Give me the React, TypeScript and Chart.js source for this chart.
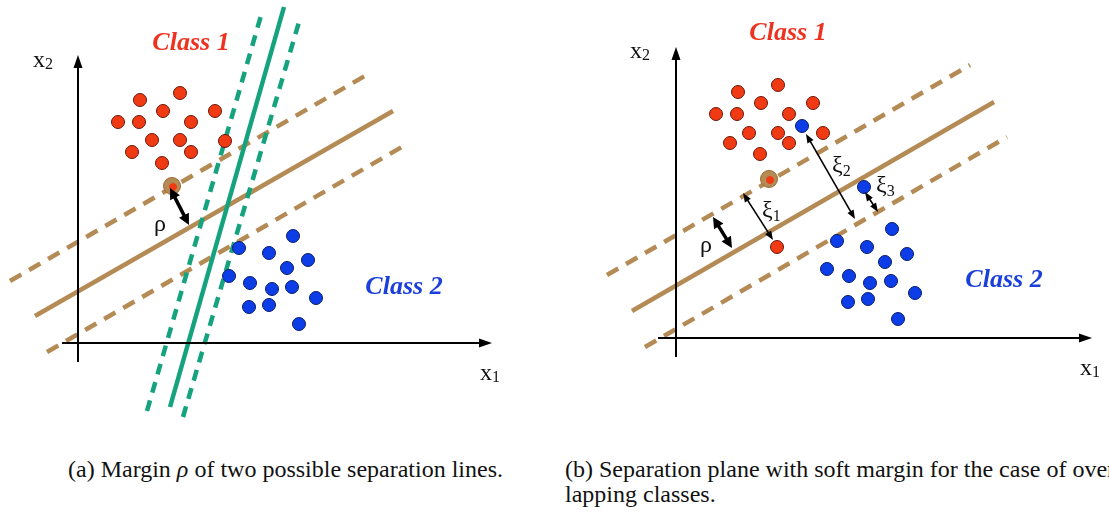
import React, { useEffect, useRef } from "react";
import { Chart, registerables } from "chart.js";
Chart.register(...registerables);

type P = [number, number];

// ---------- Panel (a) data (x1, x2 in diagram units) ----------
const redA: P[] = [
  [6.2, 24.3], [10.2, 25.0], [8.5, 23.2], [13.7, 23.2], [4.0, 22.1], [6.1, 22.1], [11.3, 22.1],
  [7.4, 20.3], [10.2, 20.3], [14.7, 20.2], [5.4, 19.1], [11.3, 19.1], [8.4, 18.0],
];
const blueA: P[] = [
  [21.5, 10.7], [16.1, 9.5], [19.1, 9.0], [23.0, 8.3], [20.9, 7.5], [15.1, 6.7], [17.2, 6.0],
  [19.4, 5.4], [21.4, 5.6], [23.8, 4.5], [17.1, 3.6], [19.1, 3.8], [22.1, 1.9],
];
const svA: P[] = [[9.4, 15.7]];
const brownSolidA: P[] = [[-4.3, 2.7], [31.5, 23.2]];
const brownUpperA: P[] = [[-6.8, 6.2], [29.2, 27.0]];
const brownLowerA: P[] = [[-3.1, -0.9], [32.9, 19.9]];
const greenSolidA: P[] = [[9.2, -6.4], [20.6, 33.6]];
const greenLeftA: P[] = [[6.9, -6.8], [18.4, 33.1]];
const greenRightA: P[] = [[10.5, -7.4], [22.1, 32.1]];
const axisXA: P[] = [[-1.6, 0], [41.4, 0]];
const axisYA: P[] = [[0, -1.9], [0, 28.8]];
const rhoArrowA: P[] = [[9.2, 15.5], [11.1, 11.8]];

// ---------- Panel (b) data ----------
const redB: P[] = [
  [6.2, 24.6], [10.2, 25.3], [8.5, 23.5], [13.7, 23.5], [4.0, 22.4], [6.1, 22.4], [11.3, 22.4],
  [7.3, 20.5], [10.2, 20.5], [14.7, 20.5], [5.4, 19.5], [11.3, 19.5], [8.4, 18.4],
];
const redOutB: P[] = [[10.1, 9.1]];
const blueB: P[] = [
  [21.6, 10.9], [16.1, 9.7], [19.1, 9.1], [23.1, 8.4], [20.9, 7.6], [15.1, 6.9], [17.3, 6.2],
  [19.4, 5.5], [21.5, 5.7], [23.9, 4.5], [17.2, 3.6], [19.2, 3.9], [22.2, 1.9],
];
const blueOutB: P[] = [[12.6, 21.2], [18.8, 15.1]];
const svB: P[] = [[9.3, 15.9]];
const brownSolidB: P[] = [[-4.4, 2.7], [31.8, 23.6]];
const brownUpperB: P[] = [[-6.9, 6.3], [29.4, 27.3]];
const brownLowerB: P[] = [[-3.1, -0.9], [33.1, 20.1]];
const axisXB: P[] = [[-1.8, 0], [41.6, 0]];
const axisYB: P[] = [[0, -1.9], [0, 29.1]];
const rhoArrowB: P[] = [[3.7, 12.1], [5.6, 9.0]];
const xi1Arrow: P[] = [[6.7, 14.5], [9.7, 9.8]];
const xi2Arrow: P[] = [[13.0, 20.4], [17.9, 11.9]];
const xi3Arrow: P[] = [[18.9, 14.6], [20.2, 12.6]];

// ---------- labels ----------
const classLabels = ["Class 1", "Class 2"];
const axisLabels = ["x", "x"];
const axisSubs = ["1", "2"];
const xiSubs = ["1", "2", "3"];

const BROWN = "#B48A55";
const GREEN = "#14A37E";
const RED = "#F03A14";
const BLUE = "#0C3DE6";
const RED_TXT = "#EE3220";
const BLUE_TXT = "#1B3FDA";

const pts = (a: P[]) => a.map(([x, y]) => ({ x, y }));

type ArrowSpec = { pts: P[]; width: number; both: boolean; len: number; wid: number };
type TextSpec = {
  at: P; text: string; sub?: string; font: string; subFont?: string; color: string;
  align?: CanvasTextAlign; base?: CanvasTextBaseline; subDy?: number;
};

function head(ctx: CanvasRenderingContext2D, x1: number, y1: number, x2: number, y2: number, len: number, wid: number) {
  const a = Math.atan2(y2 - y1, x2 - x1);
  const c = Math.cos(a), s = Math.sin(a);
  ctx.beginPath();
  ctx.moveTo(x2, y2);
  ctx.lineTo(x2 - len * c + (wid / 2) * s, y2 - len * s - (wid / 2) * c);
  ctx.lineTo(x2 - len * c - (wid / 2) * s, y2 - len * s + (wid / 2) * c);
  ctx.closePath();
  ctx.fill();
}

function extrasPlugin(arrows: ArrowSpec[], texts: TextSpec[]) {
  return {
    id: "diagramExtras",
    afterDatasetsDraw(chart: any) {
      const ctx: CanvasRenderingContext2D = chart.ctx;
      const sx = chart.scales.x, sy = chart.scales.y;
      const px = (p: P) => [sx.getPixelForValue(p[0]), sy.getPixelForValue(p[1])];
      ctx.save();
      for (const ar of arrows) {
        const [x1, y1] = px(ar.pts[0]);
        const [x2, y2] = px(ar.pts[1]);
        const d = Math.hypot(x2 - x1, y2 - y1);
        const ux = (x2 - x1) / d, uy = (y2 - y1) / d;
        const cut = ar.len * 0.7;
        ctx.strokeStyle = "#000";
        ctx.fillStyle = "#000";
        ctx.lineWidth = ar.width;
        ctx.beginPath();
        ctx.moveTo(ar.both ? x1 + ux * cut : x1, ar.both ? y1 + uy * cut : y1);
        ctx.lineTo(x2 - ux * cut, y2 - uy * cut);
        ctx.stroke();
        head(ctx, x1, y1, x2, y2, ar.len, ar.wid);
        if (ar.both) head(ctx, x2, y2, x1, y1, ar.len, ar.wid);
      }
      for (const t of texts) {
        const [x, y] = px(t.at);
        ctx.font = t.font;
        ctx.fillStyle = t.color;
        ctx.textAlign = t.align || "left";
        ctx.textBaseline = t.base || "alphabetic";
        ctx.fillText(t.text, x, y);
        if (t.sub) {
          const w = ctx.measureText(t.text).width;
          ctx.font = t.subFont || t.font;
          ctx.textAlign = "left";
          ctx.fillText(t.sub, x + w, y + (t.subDy || 4));
        }
      }
      ctx.restore();
    },
  };
}

const line = (data: P[], color: string, dash: number[] = [], order = 5) => ({
  type: "line" as const,
  data: pts(data),
  borderColor: color,
  borderWidth: 4.5,
  borderDash: dash,
  pointRadius: 0,
  showLine: true,
  fill: false,
  tension: 0,
  order,
});

const dots = (data: P[], fill: string, border: string, r = 6.5, order = 1) => ({
  type: "scatter" as const,
  data: pts(data),
  backgroundColor: fill,
  borderColor: border,
  borderWidth: 1,
  pointRadius: r,
  pointHoverRadius: r,
  order,
});

const SERIF = '"Liberation Serif", "Times New Roman", serif';

function Panel(props: {
  datasets: any[]; arrows: ArrowSpec[]; texts: TextSpec[];
  left: number; width: number; height: number; xr: [number, number]; yr: [number, number];
}) {
  const ref = useRef<HTMLCanvasElement | null>(null);
  useEffect(() => {
    if (!ref.current) return;
    const chart = new Chart(ref.current, {
      type: "scatter",
      data: { datasets: props.datasets },
      options: {
        animation: false,
        responsive: false,
        devicePixelRatio: 1,
        layout: { padding: 0, autoPadding: false },
        events: [],
        plugins: { legend: { display: false }, tooltip: { enabled: false } },
        scales: {
          x: { type: "linear", min: props.xr[0], max: props.xr[1], display: false },
          y: { type: "linear", min: props.yr[0], max: props.yr[1], display: false },
        },
      },
      plugins: [extrasPlugin(props.arrows, props.texts)],
    } as any);
    return () => chart.destroy();
  }, []);
  return (
    <canvas
      ref={ref}
      width={props.width}
      height={props.height}
      style={{ position: "absolute", left: props.left, top: 0, width: props.width, height: props.height }}
    />
  );
}

export default function App() {
  const axisArrow = (p: P[]): ArrowSpec => ({ pts: p, width: 2, both: false, len: 13, wid: 9 });
  const rhoArrow = (p: P[]): ArrowSpec => ({ pts: p, width: 3.5, both: true, len: 11, wid: 11 });
  const xiArrow = (p: P[]): ArrowSpec => ({ pts: p, width: 1.6, both: true, len: 9, wid: 7 });

  const classFont = `italic bold 26px ${SERIF}`;
  const axFont = `24px ${SERIF}`;
  const subFont = `16px ${SERIF}`;
  const greekFont = `24px ${SERIF}`;

  const dsA = [
    dots(svA.map(([x, y]) => [x + 0.1, y - 0.1] as P), RED, RED, 3.5, 0),
    dots(svA, BROWN, "#9A6A35", 8.5, 1),
    dots(redA, RED, "#6E1608"),
    dots(blueA, BLUE, "#0A1C6E"),
    line(greenSolidA, GREEN, [], 3),
    line(greenLeftA, GREEN, [11, 8], 3),
    line(greenRightA, GREEN, [11, 8], 3),
    line(brownSolidA, BROWN, [], 5),
    line(brownUpperA, BROWN, [13, 9], 5),
    line(brownLowerA, BROWN, [13, 9], 5),
  ];
  const arrowsA = [axisArrow(axisXA), axisArrow(axisYA), rhoArrow(rhoArrowA)];
  const textsA: TextSpec[] = [
    { at: [11.3, 30.0], text: classLabels[0], font: classFont, color: RED_TXT, align: "center", base: "middle" },
    { at: [32.6, 5.6], text: classLabels[1], font: classFont, color: BLUE_TXT, align: "center", base: "middle" },
    { at: [-4.5, 27.6], text: axisLabels[1], sub: axisSubs[1], font: axFont, subFont, color: "#111", subDy: 2 },
    { at: [40.2, -3.7], text: axisLabels[0], sub: axisSubs[0], font: axFont, subFont, color: "#111", subDy: 2 },
    { at: [8.2, 11.8], text: "ρ", font: greekFont, color: "#111", align: "center", base: "middle" },
  ];

  const dsB = [
    dots(svB.map(([x, y]) => [x + 0.1, y - 0.1] as P), RED, RED, 3.5, 0),
    dots(svB, BROWN, "#9A6A35", 8.5, 1),
    dots(redB, RED, "#6E1608"),
    dots(redOutB, RED, "#6E1608"),
    dots(blueB, BLUE, "#0A1C6E"),
    dots(blueOutB, BLUE, "#0A1C6E"),
    line(brownSolidB, BROWN, [], 5),
    line(brownUpperB, BROWN, [13, 9], 5),
    line(brownLowerB, BROWN, [13, 9], 5),
  ];
  const arrowsB = [
    axisArrow(axisXB), axisArrow(axisYB), rhoArrow(rhoArrowB),
    xiArrow(xi1Arrow), xiArrow(xi2Arrow), xiArrow(xi3Arrow),
  ];
  const textsB: TextSpec[] = [
    { at: [11.2, 30.5], text: classLabels[0], font: classFont, color: RED_TXT, align: "center", base: "middle" },
    { at: [32.8, 5.8], text: classLabels[1], font: classFont, color: BLUE_TXT, align: "center", base: "middle" },
    { at: [-4.6, 28.0], text: axisLabels[1], sub: axisSubs[1], font: axFont, subFont, color: "#111", subDy: 2 },
    { at: [40.4, -3.7], text: axisLabels[0], sub: axisSubs[0], font: axFont, subFont, color: "#111", subDy: 2 },
    { at: [3.0, 9.2], text: "ρ", font: greekFont, color: "#111", align: "center", base: "middle" },
    { at: [8.6, 12.1], text: "ξ", sub: xiSubs[0], font: greekFont, subFont, color: "#111", subDy: 4 },
    { at: [15.6, 16.6], text: "ξ", sub: xiSubs[1], font: greekFont, subFont, color: "#111", subDy: 4 },
    { at: [20.0, 14.6], text: "ξ", sub: xiSubs[2], font: greekFont, subFont, color: "#111", subDy: 4 },
  ];

  const capStyle: React.CSSProperties = {
    position: "absolute",
    top: 457,
    fontFamily: SERIF,
    fontSize: 24,
    lineHeight: "25px",
    color: "#111",
    whiteSpace: "nowrap",
  };

  return (
    <div style={{ position: "fixed", left: 0, top: 0, width: 1109, height: 517, background: "#fff", overflow: "hidden" }}>
      <Panel datasets={dsA} arrows={arrowsA} texts={textsA} left={0} width={555} height={440}
        xr={[-7.8, 47.7]} yr={[-9.7, 34.3]} />
      <Panel datasets={dsB} arrows={arrowsB} texts={textsB} left={555} width={554} height={440}
        xr={[-12.1, 43.3]} yr={[-10.2, 33.8]} />
      <div style={{ ...capStyle, left: 68 }}>
        (a) Margin <i>ρ</i> of two possible separation lines.
      </div>
      <div style={{ ...capStyle, left: 565, width: 544, overflow: "hidden" }}>
        (b) Separation plane with soft margin for the case of over-
        <br />
        lapping classes.
      </div>
    </div>
  );
}
